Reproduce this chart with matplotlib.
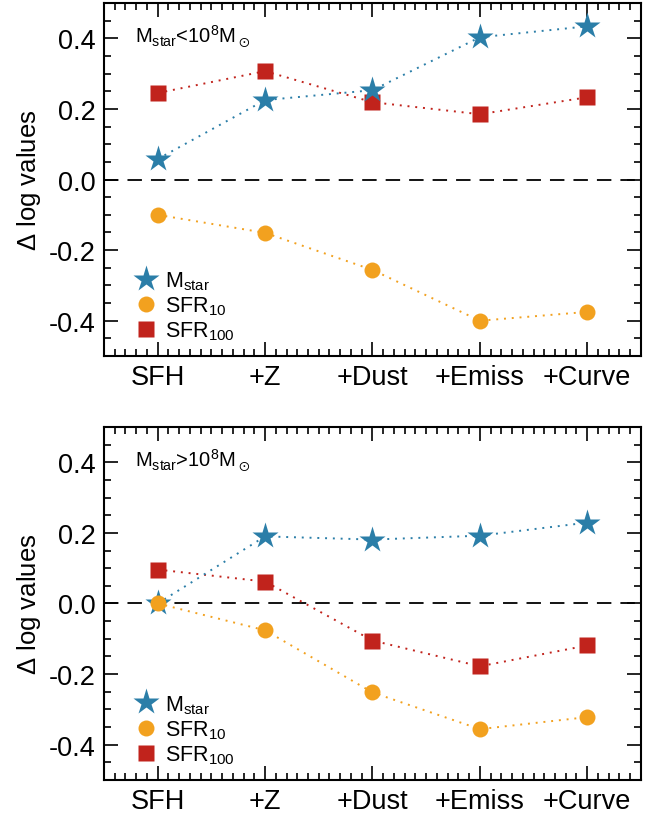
import numpy as np
import matplotlib
matplotlib.use('Agg')
import matplotlib.pyplot as plt
from matplotlib.ticker import MultipleLocator

plt.rcParams['font.family'] = ['Liberation Sans', 'DejaVu Sans']
plt.rcParams['mathtext.fontset'] = 'custom'
plt.rcParams['mathtext.rm'] = 'Liberation Sans'
plt.rcParams['mathtext.it'] = 'Liberation Sans'
plt.rcParams['mathtext.default'] = 'regular'

# categories (cumulative model changes)
steps = ['SFH', '+Z', '+Dust', '+Emiss', '+Curve']

# low-mass galaxies
low_mstar = [0.058, 0.225, 0.253, 0.403, 0.434]
low_sfr10 = [-0.100, -0.151, -0.256, -0.400, -0.375]
low_sfr100 = [0.245, 0.307, 0.219, 0.185, 0.233]

# high-mass galaxies
high_mstar = [0.0, 0.190, 0.181, 0.192, 0.229]
high_sfr10 = [0.0, -0.076, -0.252, -0.356, -0.322]
high_sfr100 = [0.096, 0.062, -0.105, -0.178, -0.119]

c_star = '#2b7ea8'
c_sfr10 = '#f2a11f'
c_sfr100 = '#c1231c'

fig = plt.figure(figsize=(6.54, 8.2), dpi=100)
ax1 = fig.add_axes([0.159, 0.5646, 0.821, 0.4305])
ax2 = fig.add_axes([0.159, 0.0476, 0.821, 0.4305])

panels = [(ax1, low_mstar, low_sfr10, low_sfr100, r'M$_{star}$<10$^8$M$_\odot$'),
          (ax2, high_mstar, high_sfr10, high_sfr100, r'M$_{star}$>10$^8$M$_\odot$')]

x = np.arange(len(steps))
for ax, ms, s10, s100, title in panels:
    ax.axhline(0, color='black', lw=1.3, ls=(0, (8, 5)), zorder=1)
    ax.plot(x, s100, ls=(0, (1, 3)), color=c_sfr100, lw=1.4, zorder=2)
    ax.plot(x, s10, ls=(0, (1, 3)), color=c_sfr10, lw=1.4, zorder=2)
    ax.plot(x, ms, ls=(0, (1, 3)), color=c_star, lw=1.4, zorder=2)
    ax.plot(x, s100, 's', color=c_sfr100, ms=11.5, mec='none', zorder=3)
    ax.plot(x, s10, 'o', color=c_sfr10, ms=11.5, mec='none', zorder=4)
    ax.plot(x, ms, '*', color=c_star, ms=20, mec='none', zorder=3)

    h1, = ax.plot([], [], '*', color=c_star, ms=20, mec='none')
    h2, = ax.plot([], [], 'o', color=c_sfr10, ms=11.5, mec='none')
    h3, = ax.plot([], [], 's', color=c_sfr100, ms=11.5, mec='none')
    ax.legend([h1, h2, h3], [r'M$_{star}$', r'SFR$_{10}$', r'SFR$_{100}$'],
              loc='lower left', frameon=False, fontsize=15.5, handletextpad=0.15,
              labelspacing=0.12, borderaxespad=0.25, handlelength=1.5,
              bbox_to_anchor=(0.022, 0.0))

    ax.text(0.058, 0.945, title, transform=ax.transAxes, fontsize=14.5,
            ha='left', va='top')

    ax.set_xlim(-0.5, 4.5)
    ax.set_ylim(-0.5, 0.5)
    ax.set_xticks(x)
    ax.set_xticklabels(steps)
    ax.xaxis.set_minor_locator(MultipleLocator(0.1))
    ax.yaxis.set_minor_locator(MultipleLocator(0.05))
    ax.set_yticks([-0.4, -0.2, 0.0, 0.2, 0.4])
    ax.set_yticklabels(['-0.4', '-0.2', '0.0', '0.2', '0.4'])
    ax.tick_params(which='both', direction='in', top=True, right=True,
                   labelsize=19.5, width=1.2)
    ax.tick_params(which='major', length=10, pad=6)
    ax.tick_params(which='minor', length=5)
    for sp in ax.spines.values():
        sp.set_linewidth(1.5)
    ax.set_ylabel(r'$\Delta$ log values', fontsize=18.5, labelpad=4)

fig.savefig('out.png', dpi=100)
